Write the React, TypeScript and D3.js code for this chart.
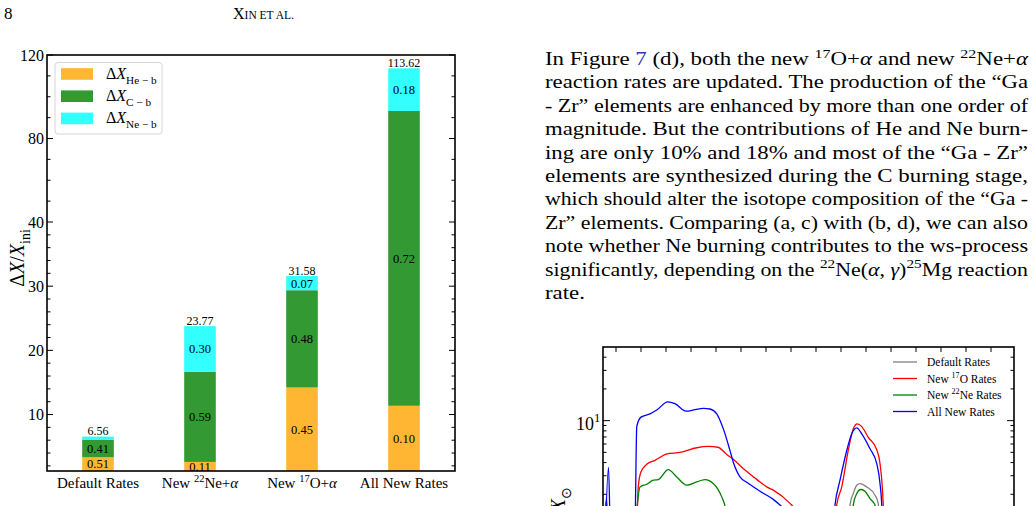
import React, { useEffect, useRef } from "react";
import * as d3 from "d3";

// ── Bar chart data ─────────────────────────────────────────────
const categories = ["Default Rates", "New 22Ne+α", "New 17O+α", "All New Rates"];
const totals = [6.56, 23.77, 31.58, 113.62];
const heFrac = [0.51, 0.11, 0.45, 0.10];
const cFrac = [0.41, 0.59, 0.48, 0.72];
const neFrac = [0.08, 0.30, 0.07, 0.18];
const yMajorTicks = [10, 20, 30, 40, 80, 120];
const yMinorTicks = [2, 4, 6, 8, 12, 14, 16, 18, 22, 24, 26, 28, 32, 34, 36, 38, 50, 60, 70, 90, 100, 110];

// ── Inset (abundance curves) data, [x, X/Xsun] ───────────────────
const defaultRates: [number, number][] = [
  [58.40, 0.5], [58.62, 1.7], [58.80, 0.5], [66.0, 0.5], [68.28, 1.0], [68.36, 1.58], [68.49, 2.03],
  [68.63, 2.44], [68.76, 2.53], [69.03, 2.35], [69.36, 1.96], [69.49, 1.64], [69.56, 1.0], [70.0, 0.5],
];
const new17ORates: [number, number][] = [
  [59.6, 0.5], [59.83, 1.0], [59.89, 2.35], [60.0, 3.27], [60.23, 3.85], [60.56, 4.2], [61.04, 4.83],
  [61.56, 4.99], [62.23, 5.53], [62.69, 5.69], [63.08, 5.59], [63.43, 4.78], [63.69, 4.29], [64.09, 3.52],
  [64.63, 2.77], [65.03, 2.35], [65.29, 2.19], [65.96, 1.64], [66.36, 1.27], [66.8, 0.8], [67.6, 0.6],
  [67.76, 1.0], [67.83, 1.58], [68.03, 2.35], [68.29, 5.21], [68.49, 8.35], [68.65, 9.31], [68.83, 8.78],
  [69.09, 6.95], [69.43, 5.3], [69.56, 3.91], [69.69, 1.58], [69.72, 1.0], [70.0, 0.5],
];
const new22NeRates: [number, number][] = [
  [58.5, 0.5], [58.62, 1.9], [58.7, 0.5], [59.6, 0.5], [59.76, 1.0], [59.96, 2.35], [60.23, 2.49],
  [60.49, 2.72], [60.69, 2.76], [61.09, 3.43], [61.43, 2.92], [61.83, 2.44], [62.23, 2.62], [62.56, 2.76],
  [62.89, 2.53], [63.23, 1.89], [63.36, 1.55], [63.48, 1.1], [63.8, 0.5], [68.2, 0.5], [68.4, 1.0],
  [68.49, 1.58], [68.63, 2.03], [68.8, 2.22], [68.96, 2.14], [69.16, 1.82], [69.36, 1.58], [69.44, 1.0], [69.8, 0.5],
];
const allNewRates: [number, number][] = [
  [58.55, 0.5], [58.70, 3.6], [58.80, 0.5], [59.6, 0.5], [59.76, 1.0], [59.83, 8.78], [60.0, 10.8],
  [60.36, 11.6], [60.63, 12.6], [61.07, 15.1], [61.36, 14.5], [61.8, 12.3], [62.16, 12.7], [62.49, 13.1],
  [62.76, 12.9], [63.03, 11.6], [63.29, 8.4], [63.56, 5.2], [63.69, 4.05], [63.96, 2.92], [64.23, 2.6],
  [64.76, 2.14], [65.29, 1.79], [65.56, 1.58], [65.96, 1.27], [66.5, 0.8], [67.5, 0.6], [67.68, 1.0],
  [67.76, 1.58], [67.96, 2.72], [68.23, 5.21], [68.43, 7.5], [68.63, 8.53], [68.83, 7.5], [69.16, 5.41],
  [69.43, 3.91], [69.56, 2.53], [69.63, 1.55], [69.64, 1.0], [70.0, 0.5],
];
const insetXTicks = d3.range(59, 75);
const insetYMinor = [2, 3, 4, 5, 6, 7, 8, 9, 20, 30, 40];

const SERIF = "'Liberation Serif', 'Times New Roman', serif";
const COL = { he: "#ffb733", c: "#339933", ne: "#33ffff" };
const LINK = "#3535b5";

type Part = { t: string; sup?: boolean; sub?: boolean; it?: boolean; fill?: string };
const sup = (t: string): Part => ({ t, sup: true });
const sub = (t: string): Part => ({ t, sub: true });
const it = (t: string): Part => ({ t, it: true });

const catParts: (Part | string)[][] = [
  ["Default Rates"],
  ["New ", sup("22"), "Ne+", it("α")],
  ["New ", sup("17"), "O+", it("α")],
  ["All New Rates"],
];

const paragraph: (Part | string)[][] = [
  ["In Figure ", { t: "7", fill: LINK }, " (d), both the new ", sup("17"), "O+", it("α"), " and new ", sup("22"), "Ne+", it("α")],
  ["reaction rates are updated. The production of the “Ga"],
  ["- Zr” elements are enhanced by more than one order of"],
  ["magnitude. But the contributions of He and Ne burn-"],
  ["ing are only 10% and 18% and most of the “Ga - Zr”"],
  ["elements are synthesized during the C burning stage,"],
  ["which should alter the isotope composition of the “Ga -"],
  ["Zr” elements. Comparing (a, c) with (b, d), we can also"],
  ["note whether Ne burning contributes to the ws-process"],
  ["significantly, depending on the ", sup("22"), "Ne(", it("α"), ", ", it("γ"), ")", sup("25"), "Mg reaction"],
  ["rate."],
];

function rich(text: any, parts: (Part | string)[], size: number) {
  let cur = 0;
  parts.forEach((p0) => {
    const p: Part = typeof p0 === "string" ? { t: p0 } : p0;
    const off = p.sup ? -0.4 * size : p.sub ? 0.3 * size : 0;
    const ts = text.append("tspan").text(p.t).attr("dy", off - cur);
    cur = off;
    if (p.sup || p.sub) ts.attr("font-size", size * 0.7);
    if (p.it) ts.attr("font-style", "italic");
    if (p.fill) ts.attr("fill", p.fill);
  });
}

const App = () => {
  const svgRef = useRef<SVGSVGElement>(null);

  useEffect(() => {
    if (!svgRef.current) return;
    const svg = d3.select(svgRef.current);
    svg.selectAll("*").remove();

    // ── Page header ──────────────────────────────────────────
    svg.append("text").attr("x", 4).attr("y", 19).attr("font-family", SERIF)
      .attr("font-size", 17).text("8");
    const hdr = svg.append("text").attr("x", 233).attr("y", 19).attr("font-family", SERIF)
      .attr("font-size", 16);
    hdr.append("tspan").text("X");
    hdr.append("tspan").attr("font-size", 11.5).text("IN ET AL.");

    // ── Stacked bar chart ────────────────────────────────────
    const L = 47, R = 455, T = 55, B = 471;
    const yMin = 1.2;
    const x = d3.scaleBand<number>().domain(d3.range(categories.length)).range([L, R]);
    const y = d3.scaleLinear().domain([yMin, 40, 120]).range([B, 222, T]).clamp(true);
    const barW = x.bandwidth() * 0.31;

    const rows = totals.map((t, i) => ({ he: t * heFrac[i], c: t * cFrac[i], ne: t * neFrac[i] }));
    const fracs: Record<string, number[]> = { he: heFrac, c: cFrac, ne: neFrac };
    const stack = d3.stack<any>().keys(["he", "c", "ne"])(rows);

    const g = svg.append("g");
    stack.forEach((layer) => {
      const key = layer.key as "he" | "c" | "ne";
      layer.forEach((d, i) => {
        const x0 = (x(i) as number) + (x.bandwidth() - barW) / 2;
        const y0 = y(d[0]), y1 = y(d[1]);
        g.append("rect").attr("x", x0).attr("y", y1).attr("width", barW)
          .attr("height", Math.max(0, y0 - y1)).attr("fill", COL[key]);
        if (y0 - y1 > 8) {
          g.append("text").attr("x", x0 + barW / 2).attr("y", (y0 + y1) / 2).attr("dy", "0.35em")
            .attr("text-anchor", "middle").attr("font-family", SERIF).attr("font-size", 12.5)
            .text(fracs[key][i].toFixed(2));
        }
      });
    });

    totals.forEach((t, i) => {
      g.append("text").attr("x", (x(i) as number) + x.bandwidth() / 2).attr("y", y(t) - 1.5)
        .attr("text-anchor", "middle").attr("font-family", SERIF).attr("font-size", 12)
        .text(t.toFixed(2));
    });

    // axes frame
    g.append("rect").attr("x", L).attr("y", T).attr("width", R - L).attr("height", B - T)
      .attr("fill", "none").attr("stroke", "#000").attr("stroke-width", 1.6);

    [...yMajorTicks.map((v) => [v, 6]), ...yMinorTicks.map((v) => [v, 3.5])].forEach(([v, len]) => {
      g.append("line").attr("x1", L).attr("x2", L + len).attr("y1", y(v)).attr("y2", y(v))
        .attr("stroke", "#000").attr("stroke-width", 1);
      g.append("line").attr("x1", R).attr("x2", R - len).attr("y1", y(v)).attr("y2", y(v))
        .attr("stroke", "#000").attr("stroke-width", 1);
    });
    yMajorTicks.forEach((v) => {
      g.append("text").attr("x", 44).attr("y", y(v)).attr("dy", "0.35em").attr("text-anchor", "end")
        .attr("font-family", SERIF).attr("font-size", 16).text(v);
    });

    catParts.forEach((parts, i) => {
      const t = g.append("text").attr("x", (x(i) as number) + x.bandwidth() / 2).attr("y", 488)
        .attr("text-anchor", "middle").attr("font-family", SERIF).attr("font-size", 15)
        .style("white-space", "pre");
      rich(t, parts, 15);
    });

    const yl = g.append("text").attr("transform", "translate(24,258) rotate(-90)")
      .attr("text-anchor", "middle").attr("font-family", SERIF).attr("font-size", 20)
      .style("white-space", "pre");
    rich(yl, ["Δ", it("X"), "/", it("X"), sub("ini")], 20);

    // legend
    g.append("rect").attr("x", 55).attr("y", 62.5).attr("width", 107).attr("height", 71.5)
      .attr("rx", 3).attr("fill", "#fff").attr("stroke", "#d6d6d6").attr("stroke-width", 1);
    const legendItems = [
      { color: COL.he, sub: "He − b" },
      { color: COL.c, sub: "C − b" },
      { color: COL.ne, sub: "Ne − b" },
    ];
    legendItems.forEach((item, k) => {
      const cy = 74 + k * 22.2;
      g.append("rect").attr("x", 61).attr("y", cy - 5.8).attr("width", 32).attr("height", 11.6)
        .attr("fill", item.color);
      const t = g.append("text").attr("x", 106).attr("y", cy + 5).attr("font-family", SERIF)
        .attr("font-size", 16).style("white-space", "pre");
      rich(t, ["Δ", it("X"), sub(item.sub)], 16);
    });

    // ── Paragraph text (justified by stretching each line) ─────
    paragraph.forEach((parts, k) => {
      const last = k === paragraph.length - 1;
      const t = svg.append("text").attr("x", 545).attr("y", 65 + k * 23.4)
        .attr("font-family", SERIF).attr("font-size", 18).style("white-space", "pre")
        .attr("textLength", last ? 40 : 483).attr("lengthAdjust", "spacingAndGlyphs");
      rich(t, parts, 18);
    });

    // ── Inset abundance plot ─────────────────────────────────
    const iL = 603, iR = 1014, iT = 347, iB = 560;
    const ix = d3.scaleLinear().domain([58.48, 74.92]).range([iL, iR]);
    const iy = d3.scaleLog().domain([1, 50]).range([526, iT]);

    svg.append("defs").append("clipPath").attr("id", "insetClip")
      .append("rect").attr("x", iL).attr("y", iT).attr("width", iR - iL).attr("height", iB - iT);

    const ig = svg.append("g");
    const line = d3.line<[number, number]>().x((d) => ix(d[0])).y((d) => iy(d[1])).curve(d3.curveMonotoneX);
    const series = [
      { data: defaultRates, color: "#808080", label: ["Default Rates"] },
      { data: new17ORates, color: "#ff0000", label: ["New ", sup("17"), "O Rates"] },
      { data: new22NeRates, color: "#008000", label: ["New ", sup("22"), "Ne Rates"] },
      { data: allNewRates, color: "#0000ff", label: ["All New Rates"] },
    ];
    series.forEach((s) => {
      ig.append("path").attr("d", line(s.data)).attr("fill", "none").attr("stroke", s.color)
        .attr("stroke-width", 1.3).attr("clip-path", "url(#insetClip)");
    });

    ig.append("rect").attr("x", iL).attr("y", iT).attr("width", iR - iL).attr("height", iB - iT)
      .attr("fill", "none").attr("stroke", "#000").attr("stroke-width", 1.6);
    insetXTicks.forEach((v) => {
      ig.append("line").attr("x1", ix(v)).attr("x2", ix(v)).attr("y1", iT).attr("y2", iT + 5)
        .attr("stroke", "#000").attr("stroke-width", 1);
    });
    [[10, 7], ...insetYMinor.map((v) => [v, 3.5])].forEach(([v, len]) => {
      ig.append("line").attr("x1", iL).attr("x2", iL + len).attr("y1", iy(v)).attr("y2", iy(v))
        .attr("stroke", "#000").attr("stroke-width", 1);
      ig.append("line").attr("x1", iR).attr("x2", iR - len).attr("y1", iy(v)).attr("y2", iy(v))
        .attr("stroke", "#000").attr("stroke-width", 1);
    });
    const t10 = ig.append("text").attr("x", 576).attr("y", iy(10) + 9).attr("font-family", SERIF)
      .attr("font-size", 18);
    rich(t10, ["10", sup("1")], 18);

    // axis title is cut by the page edge, as in the original page
    const iyl = ig.append("text").attr("transform", "translate(565,487) rotate(-90)")
      .attr("text-anchor", "end").attr("font-family", SERIF).attr("font-size", 20);
    rich(iyl, [it("X"), sub("⊙")], 20);

    series.forEach((s, k) => {
      const cy = 362 + k * 16.5;
      ig.append("line").attr("x1", 893).attr("x2", 917).attr("y1", cy).attr("y2", cy)
        .attr("stroke", s.color).attr("stroke-width", 1.3);
      const t = ig.append("text").attr("x", 927).attr("y", cy + 4).attr("font-family", SERIF)
        .attr("font-size", 11.5).style("white-space", "pre");
      rich(t, s.label, 11.5);
    });
  }, []);

  return (
    <svg
      ref={svgRef}
      width={1036}
      height={506}
      style={{ position: "absolute", left: 0, top: 0, background: "#fff" }}
    />
  );
};

export default App;
